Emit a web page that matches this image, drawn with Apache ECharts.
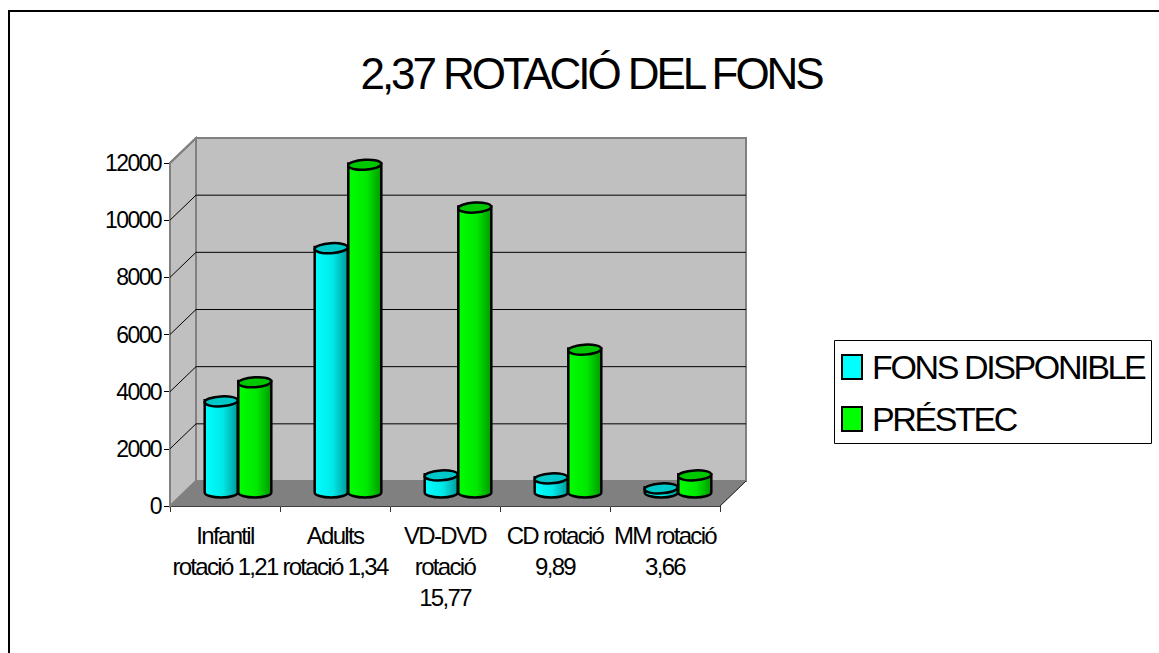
<!DOCTYPE html>
<html>
<head>
<meta charset="utf-8">
<style>
html,body{margin:0;padding:0;background:#fff;}
#chart{width:1159px;height:653px;}
#chart text{letter-spacing:-0.07em;}
</style>
<script src="https://cdn.jsdelivr.net/npm/echarts@6/dist/echarts.min.js"></script>
</head>
<body>
<div id="chart"></div>
<script>
const categories = ['Infantil\nrotació 1,21','Adults\nrotació 1,34','VD-DVD\nrotació\n15,77','CD rotació\n9,89','MM rotació\n3,66'];
const fonsDisponible = [3220, 8580, 630, 525, 175];
const prestec = [3890, 11500, 10000, 5030, 630];
const seriesNames = ['FONS DISPONIBLE','PRÉSTEC'];
const titleText = '2,37 ROTACIÓ DEL FONS';
const valueTicks = [0,2000,4000,6000,8000,10000,12000];

const FONT = '"Liberation Sans", Arial, sans-serif';
const DX = 26, DY = 25;    // 3D depth offset of the back wall
const BAR_W = 33;

const wallRender = function (params, api) {
  const y0 = api.coord([0, 0]);
  const yTop = api.coord([0, 12000]);
  const xs = api.size([1, 0])[0];
  const L = y0[0] - xs / 2, R = L + xs * categories.length;
  const B = y0[1], T = yTop[1];
  const kids = [];
  kids.push({type:'polygon',shape:{points:[[L,B],[L+DX,B-DY],[L+DX,T-DY],[L,T]]},style:{fill:'#c0c0c0',stroke:'#808080',lineWidth:2}});
  kids.push({type:'rect',shape:{x:L+DX,y:T-DY,width:xs*categories.length,height:B-T},style:{fill:'#c0c0c0',stroke:'#808080',lineWidth:2}});
  kids.push({type:'polygon',shape:{points:[[L,B],[R,B],[R+DX,B-DY],[L+DX,B-DY]]},style:{fill:'#808080',stroke:'#808080',lineWidth:1}});
  valueTicks.slice(1,-1).forEach(v => {
    const y = api.coord([0, v])[1];
    kids.push({type:'polyline',shape:{points:[[L,y],[L+DX,y-DY],[R+DX,y-DY]]},style:{fill:null,stroke:'#000',lineWidth:1}});
  });
  kids.push({type:'line',shape:{x1:L,y1:T,x2:L+DX,y2:T-DY},style:{stroke:'#808080',lineWidth:2}});
  kids.push({type:'line',shape:{x1:R,y1:B,x2:R+DX,y2:B-DY},style:{stroke:'#222',lineWidth:1}});
  return {type:'group',children:kids};
};

function cylRender(side, c0, c1, c2, top) {
  return function (params, api) {
    const cat = api.value(0), val = api.value(1);
    const p = api.coord([cat, val]);
    const base = api.coord([cat, 0]);
    const half = BAR_W / 2;
    const cx = p[0] + DX / 2 + side * (half + 0.3);
    const yT = p[1] - DY / 2;
    const yB = base[1] - DY / 2 + 1.5;
    const ry = 5;
    const fill = new echarts.graphic.LinearGradient(0,0,1,0,[
      {offset:0,color:c0},{offset:0.55,color:c1},{offset:1,color:c2}]);
    const path = `M${cx-half} ${yT}L${cx-half} ${yB}A${half} ${ry} 0 0 0 ${cx+half} ${yB}L${cx+half} ${yT}A${half} ${ry} 0 0 1 ${cx-half} ${yT}Z`;
    return {type:'group',children:[
      {type:'path',shape:{pathData:path,layout:'center',x:cx-half,y:yT-ry,width:BAR_W,height:yB-yT+2*ry},
       style:{fill:fill,stroke:'#000',lineWidth:2.5}},
      {type:'ellipse',shape:{cx:cx,cy:yT,rx:half,ry:ry},rotation:0.06,originX:cx,originY:yT,
       style:{fill:top,stroke:'#000',lineWidth:2.5}}
    ]};
  };
}

const chart = echarts.init(document.getElementById('chart'), null, {renderer:'svg'});
chart.setOption({
  animation:false,
  backgroundColor:'#fff',
  title:{text:titleText,left:586,top:46,textAlign:'center',
    textStyle:{fontFamily:FONT,fontSize:44,fontWeight:'normal',color:'#000'}},
  legend:{
    orient:'vertical',left:834,top:340,
    padding:[10,0,7,7],itemGap:18,itemWidth:20,itemHeight:24,
    icon:'rect',
    itemStyle:{borderColor:'#000',borderWidth:2},
    textStyle:{fontFamily:FONT,fontSize:34,color:'#000',padding:[0,0,0,5]},
    data:seriesNames
  },
  grid:{left:170,top:163,width:550,height:343,containLabel:false},
  xAxis:{type:'category',data:categories,boundaryGap:true,
    axisLine:{show:true,lineStyle:{color:'#000',width:2}},
    axisTick:{show:true,length:6,lineStyle:{color:'#333',width:1}},
    axisLabel:{interval:0,margin:14,hideOverlap:false,fontFamily:FONT,fontSize:24,lineHeight:31,color:'#000'},
    splitLine:{show:false}},
  yAxis:{type:'value',min:0,max:12000,interval:2000,
    axisLine:{show:true,lineStyle:{color:'#333',width:2}},
    axisTick:{show:true,length:6,lineStyle:{color:'#000',width:1}},
    axisLabel:{margin:9,fontFamily:FONT,fontSize:23,color:'#000',formatter:v=>String(v)},
    splitLine:{show:false}},
  graphic:[
    {type:'rect',silent:true,z:-10,shape:{x:9,y:11,width:1160,height:650},
     style:{fill:'#fff',stroke:'#000',lineWidth:2}},
    {type:'rect',silent:true,z:0,shape:{x:834.5,y:340.5,width:317,height:103},
     style:{fill:'#fff',stroke:'#000',lineWidth:1}}
  ],
  series:[
    {type:'custom',name:'walls',coordinateSystem:'cartesian2d',renderItem:wallRender,
     data:[[0,0]],z:1,silent:true,clip:false},
    {type:'custom',name:seriesNames[0],coordinateSystem:'cartesian2d',z:2,clip:false,
     itemStyle:{color:'#00ffff'},encode:{x:0,y:1},
     renderItem:cylRender(-1,'#00ffff','#00e8e8','#009a9a','#00c8c8'),
     data:fonsDisponible.map((v,i)=>[i,v])},
    {type:'custom',name:seriesNames[1],coordinateSystem:'cartesian2d',z:3,clip:false,
     itemStyle:{color:'#00ff00'},encode:{x:0,y:1},
     renderItem:cylRender(1,'#00ff00','#00e800','#009a00','#00c800'),
     data:prestec.map((v,i)=>[i,v])}
  ]
});
</script>
</body>
</html>
